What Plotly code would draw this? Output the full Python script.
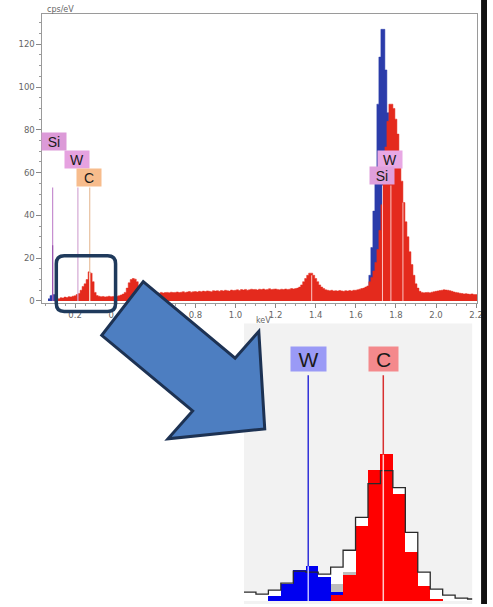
import numpy as np
import plotly.graph_objects as go

W, H = 493, 607

# ---------------- main EDS spectrum ----------------
CHANNEL_KEV = 0.01
RED_START_KEV = 0.10
RED_CPS = [
    0.0, 0.5, 1.0, 1.5, 1.4, 1.8, 1.6, 2.0, 1.9, 2.2,        # 0.10
    2.4, 3.0, 3.5, 5.0, 6.8, 8.0, 10.0, 13.6, 13.0, 9.0,     # 0.20
    4.0, 2.5, 2.2, 2.0, 2.1, 1.9, 2.0, 2.2, 2.0, 2.1,        # 0.30
    2.0, 2.2, 2.4, 2.8, 3.2, 4.0, 6.0, 8.5, 10.0, 10.5,      # 0.40
    10.2, 9.0, 7.0, 5.0, 4.2, 3.8, 3.6, 3.7, 3.5, 3.6,       # 0.50
    3.5, 3.8, 3.6, 4.0, 3.7, 3.9, 4.0, 3.8, 4.1, 3.9,        # 0.60
    4.0, 4.2, 3.9, 4.1, 4.3, 4.0, 4.2, 4.4, 4.1, 4.3,        # 0.70
    4.4, 4.2, 4.5, 4.3, 4.6, 4.4, 4.7, 4.5, 4.3, 4.8,        # 0.80
    4.6, 4.8, 4.5, 4.9, 4.7, 5.0, 4.8, 4.6, 5.1, 4.9,        # 0.90
    5.0, 5.2, 4.9, 5.3, 5.1, 5.4, 5.0, 5.2, 5.5, 5.3,        # 1.00
    5.4, 5.1, 5.5, 5.3, 5.6, 5.2, 5.4, 5.7, 5.3, 5.5,        # 1.10
    5.6, 5.4, 5.2, 5.5, 5.3, 5.6, 5.4, 5.5, 5.8, 5.6,        # 1.20
    5.8, 6.0, 6.5, 7.5, 9.0, 10.5, 12.0, 13.0, 13.0, 12.0,   # 1.30
    10.5, 9.0, 7.5, 6.5, 5.8, 5.2, 5.0, 4.8, 5.0, 4.7,       # 1.40
    4.8, 4.6, 4.9, 4.7, 4.5, 4.8, 4.6, 4.9, 4.7, 5.0,        # 1.50
    5.0, 5.2, 5.5, 5.8, 6.0, 6.5, 7.0, 9.0, 11.0, 14.0,      # 1.60
    18.0, 24.0, 33.0, 45.0, 58.0, 72.0, 84.0, 92.0, 92.0, 90.0,  # 1.70
    85.0, 78.0, 68.0, 56.0, 46.0, 37.0, 30.0, 23.0, 17.0, 12.0,  # 1.80
    8.0, 6.0, 4.5, 4.0, 3.8, 3.9, 4.0, 3.8, 4.1, 4.3,        # 1.90
    4.5, 4.7, 4.9, 5.0, 5.2, 5.1, 5.0, 4.8, 4.5, 4.2,        # 2.00
    4.0, 3.8, 3.6, 3.5, 3.3, 3.4, 3.2, 3.1, 3.3, 3.0,        # 2.10
    3.0,                                                     # 2.20
]
BLUE_LOW_KEV = [0.07, 0.08, 0.09, 0.10, 0.11]
BLUE_LOW_CPS = [1.0, 2.5, 3.0, 3.0, 2.0]
BLUE_PEAK_KEV = [1.65, 1.66, 1.67, 1.68, 1.69, 1.70, 1.71, 1.72, 1.73, 1.74,
                 1.75, 1.76, 1.77, 1.78, 1.79, 1.80, 1.81]
BLUE_PEAK_CPS = [2.0, 6.0, 12.0, 25.0, 42.0, 62.0, 92.0, 114.0, 127.0, 127.0,
                 108.0, 88.0, 55.0, 30.0, 15.0, 6.0, 2.0]

# element marker labels
MAIN_LABELS = ["Si", "W", "C", "W", "Si"]
MAIN_LABEL_KEV = [0.097, 0.212, 0.271, 1.769, 1.732]
MAIN_LABEL_CPS = [74.7, 66.3, 57.9, 66.3, 58.6]
MAIN_LABEL_COLORS = ["#dc9ad8", "#e6a2e0", "#f7bc8c", "#e8a8e4", "#e0a0dc"]
LOW_LINE_KEV = [0.088, 0.214, 0.273]
LOW_LINE_TOP = [53, 53, 53]
LOW_LINE_COLORS = ["#c68ed0", "#d4a8d4", "#e8c0a0"]
PEAK_LINE_KEV = [1.380, 1.733, 1.775, 1.835]
PEAK_LINE_TOP = [12, 54, 54, 46]

X_TICKS = [0.2, 0.4, 0.6, 0.8, 1.0, 1.2, 1.4, 1.6, 1.8, 2.0, 2.2]
Y_TICKS = [0, 20, 40, 60, 80, 100, 120]

# ---------------- inset (zoom on W / C region) ----------------
INSET_TOTAL = [9, 7, 11, 18, 30, 29, 27, 34, 51, 84, 118, 131, 114, 69, 29, 12, 6, 3, 2]
INSET_GRAY = [0, 0, 0, 0, 0, 0, 0, 17, 29, 0, 0, 0, 0, 0, 0, 0, 0, 0, 0]
INSET_BLUE = [0, 0, 5, 17, 31, 35, 24, 9, 1, 0, 0, 0, 0, 0, 0, 0, 0, 0, 0]
INSET_RED = [0, 0, 0, 0, 0, 0, 0, 6, 26, 75, 131, 147, 107, 49, 15, 1, 0, 0, 0]
INSET_LABELS = ["W", "C"]
INSET_LINE_POS = [4.70, 10.73]
INSET_LABEL_POS = [4.74, 10.77]
INSET_LINE_TOP = 227
INSET_LABEL_Y = 243

RED = "#e42a1d"
BLUE = "#2b3caa"


def step_xy(centers, values, width):
    """Histogram outline: left edges of each channel plus the final right edge."""
    c = np.asarray(centers, dtype=float)
    xs = np.append(c - width / 2, c[-1] + width / 2)
    ys = list(values) + [values[-1]]
    return xs, ys


red_kev = np.round(RED_START_KEV + CHANNEL_KEV * np.arange(len(RED_CPS)), 3)
bins = np.arange(len(INSET_TOTAL))

fig = go.Figure()
for kev, cps in [(BLUE_LOW_KEV, BLUE_LOW_CPS), (BLUE_PEAK_KEV, BLUE_PEAK_CPS)]:
    xs, ys = step_xy(kev, cps, CHANNEL_KEV)
    fig.add_trace(go.Scatter(x=xs, y=ys, mode="lines", fill="tozeroy", fillcolor=BLUE,
                             line=dict(color=BLUE, width=0.5, shape="hv"), xaxis="x", yaxis="y"))
xs, ys = step_xy(red_kev, RED_CPS, CHANNEL_KEV)
fig.add_trace(go.Scatter(x=xs, y=ys, mode="lines", fill="tozeroy", fillcolor=RED,
                         line=dict(color=RED, width=0.5, shape="hv"), xaxis="x", yaxis="y"))

fig.add_trace(go.Bar(x=bins, y=INSET_TOTAL, width=1.0,
                     marker=dict(color="#ffffff", line=dict(width=0)), xaxis="x2", yaxis="y2"))
fig.add_trace(go.Bar(x=bins, y=INSET_GRAY, width=1.0,
                     marker=dict(color="#bdbdbd", line=dict(width=0)), xaxis="x2", yaxis="y2"))
fig.add_trace(go.Bar(x=bins, y=INSET_BLUE, width=1.0,
                     marker=dict(color="#0000f0", line=dict(width=0)), xaxis="x2", yaxis="y2"))
fig.add_trace(go.Bar(x=bins, y=INSET_RED, width=1.0,
                     marker=dict(color="#ff0000", line=dict(width=0)), xaxis="x2", yaxis="y2"))
xs, ys = step_xy(bins, INSET_TOTAL, 1.0)
fig.add_trace(go.Scatter(x=xs, y=ys, mode="lines",
                         line=dict(color="#2a2a2a", width=1.3, shape="hv"),
                         xaxis="x2", yaxis="y2"))

shapes = []
# inset background
shapes.append(dict(type="rect", xref="paper", yref="paper", x0=247 / W, x1=478 / W,
                   y0=0, y1=1 - 325 / H, fillcolor="#f2f2f2", line=dict(width=0), layer="below"))

# main-chart element lines
for k, top, col in zip(LOW_LINE_KEV, LOW_LINE_TOP, LOW_LINE_COLORS):
    shapes.append(dict(type="line", xref="x", yref="y", x0=k, x1=k, y0=0, y1=top,
                       line=dict(color=col, width=1.2), layer="above"))
shapes.append(dict(type="line", xref="x", yref="y", x0=LOW_LINE_KEV[0], x1=LOW_LINE_KEV[0],
                   y0=0, y1=26, line=dict(color="#9a55b0", width=1.2), layer="above"))
c_idx = int(round((LOW_LINE_KEV[2] - RED_START_KEV) / CHANNEL_KEV))
shapes.append(dict(type="line", xref="x", yref="y", x0=LOW_LINE_KEV[2], x1=LOW_LINE_KEV[2],
                   y0=0, y1=RED_CPS[c_idx] - 0.5, line=dict(color="#ffd8d0", width=1), layer="above"))
for k, top in zip(PEAK_LINE_KEV, PEAK_LINE_TOP):
    shapes.append(dict(type="line", xref="x", yref="y", x0=k, x1=k, y0=0, y1=top,
                       line=dict(color="rgba(255,225,225,0.85)", width=1), layer="above"))

# inset element lines
inset_cols = [("#3030d8", "#c0c0ff", INSET_BLUE), ("#d83030", "#ffc8c8", INSET_RED)]
for pos, (col, light, arr) in zip(INSET_LINE_POS, inset_cols):
    hb = arr[int(round(pos))]
    shapes.append(dict(type="line", xref="x2", yref="y2", x0=pos, x1=pos, y0=hb, y1=INSET_LINE_TOP,
                       line=dict(color=col, width=1.5), layer="above"))
    shapes.append(dict(type="line", xref="x2", yref="y2", x0=pos, x1=pos, y0=0, y1=hb,
                       line=dict(color=light, width=1.5), layer="above"))


def pp(px, py):
    return f"{px / W:.5f},{1 - py / H:.5f}"


# rounded highlight box
x0, y0, x1, y1, r = 57, 257, 117, 313, 8
box = (f"M {pp(x0 + r, y0)} L {pp(x1 - r, y0)} Q {pp(x1, y0)} {pp(x1, y0 + r)} "
       f"L {pp(x1, y1 - r)} Q {pp(x1, y1)} {pp(x1 - r, y1)} L {pp(x0 + r, y1)} "
       f"Q {pp(x0, y1)} {pp(x0, y1 - r)} L {pp(x0, y0 + r)} Q {pp(x0, y0)} {pp(x0 + r, y0)} Z")
shapes.append(dict(type="path", xref="paper", yref="paper", path=box,
                   line=dict(color="#1f3a5c", width=3.5), layer="above"))

# big arrow
arrow_pts = [(145, 283), (238, 360), (262, 333), (268, 431), (170, 441), (195, 413), (103, 337)]
arrow = "M " + " L ".join(pp(a, b) for a, b in arrow_pts) + " Z"
shapes.append(dict(type="path", xref="paper", yref="paper", path=arrow,
                   fillcolor="#4d7ec1", line=dict(color="#1d3253", width=3), layer="above"))

# right-hand dark border
shapes.append(dict(type="rect", xref="paper", yref="paper", x0=487 / W, x1=1, y0=0, y1=1,
                   fillcolor="#111111", line=dict(width=0), layer="above"))

annotations = []
for t, k, c, col in zip(MAIN_LABELS, MAIN_LABEL_KEV, MAIN_LABEL_CPS, MAIN_LABEL_COLORS):
    annotations.append(dict(x=k, y=c, xref="x", yref="y", text=t, showarrow=False,
                            bgcolor=col, width=24, height=17, borderpad=0,
                            font=dict(family="Liberation Sans, Arial", size=14, color="#1a1a1a")))
inset_bg = ["#9a9af6", "#f4898c"]
inset_w = [35, 29]
for t, p, col, wd in zip(INSET_LABELS, INSET_LABEL_POS, inset_bg, inset_w):
    annotations.append(dict(x=p, y=INSET_LABEL_Y, xref="x2", yref="y2", text=t, showarrow=False,
                            bgcolor=col, width=wd, height=24, borderpad=0,
                            font=dict(family="Liberation Sans, Arial", size=21, color="#1a1a1a")))
annotations.append(dict(x=46 / W, y=1 - 10 / H, xref="paper", yref="paper", text="cps/eV",
                        showarrow=False, xanchor="left", yanchor="middle",
                        font=dict(family="DejaVu Sans", size=8, color="#666")))
annotations.append(dict(x=267 / W, y=1 - 322 / H, xref="paper", yref="paper", text="keV",
                        showarrow=False, xanchor="center", yanchor="middle",
                        font=dict(family="DejaVu Sans", size=8, color="#666")))

tickfont = dict(family="DejaVu Sans", size=8.5, color="#666")
fig.update_layout(
    width=W, height=H, margin=dict(l=0, r=0, t=0, b=0),
    paper_bgcolor="white", plot_bgcolor="rgba(0,0,0,0)",
    showlegend=False, barmode="overlay", bargap=0,
    xaxis=dict(domain=[43 / W, 483 / W], range=[0.0374, 2.205], anchor="y",
               tickvals=X_TICKS, tickformat=".1f", ticks="outside", ticklen=4,
               tickcolor="#888", tickfont=tickfont, showline=True, linecolor="#9a9a9a",
               linewidth=1, mirror=True, showgrid=False, zeroline=False,
               minor=dict(dtick=0.05, tick0=0, ticks="outside", ticklen=2, tickcolor="#999")),
    yaxis=dict(domain=[1 - 304.6 / H, 1 - 14.4 / H], range=[-1, 134], anchor="x",
               tickvals=Y_TICKS, ticks="outside", ticklen=5, tickcolor="#888",
               tickfont=tickfont, showline=True, linecolor="#9a9a9a", linewidth=1,
               mirror=True, showgrid=False, zeroline=False,
               minor=dict(dtick=5, tick0=0, ticks="outside", ticklen=2, tickcolor="#999")),
    xaxis2=dict(domain=[247 / W, 478 / W], range=[-0.46, 17.87], anchor="y2", visible=False,
                showgrid=False, zeroline=False),
    yaxis2=dict(domain=[0, 1 - 327 / H], range=[-3, 277], anchor="x2", visible=False,
                showgrid=False, zeroline=False),
    shapes=shapes, annotations=annotations,
)

fig.write_html("out.html")
